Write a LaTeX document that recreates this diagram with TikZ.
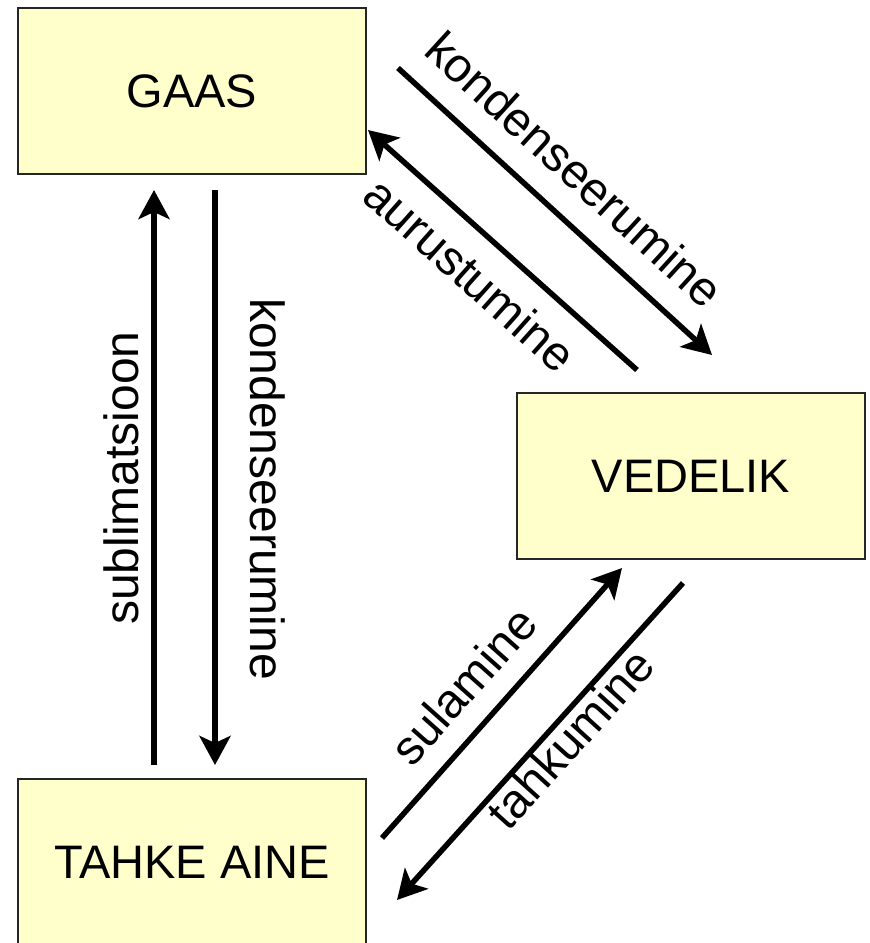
\documentclass[tikz,border=0pt]{standalone}
\usepackage{fontspec}
\setmainfont{Liberation Sans}
\usetikzlibrary{arrows.meta}
\definecolor{boxfill}{HTML}{FFFFCC}
\begin{document}
\begin{tikzpicture}[x=1pt,y=-1pt,
  statebox/.style={draw=black!85, line width=2pt, fill=boxfill, minimum width=348pt, minimum height=166pt, inner sep=0pt, font=\fontsize{47}{56}\selectfont},
  arr/.style={line width=5.5pt, -{Stealth[length=29pt,width=31pt,inset=7pt]}},
  lbl/.style={font=\fontsize{48}{58}\selectfont, inner sep=0pt, anchor=base}]
\useasboundingbox (0,0) rectangle (870,943);
\node[statebox] (gaas) at (192,91) {GAAS};
\node[statebox] (vedelik) at (691,476) {VEDELIK};
\node[statebox] (tahke) at (192,862) {TAHKE AINE};
% endpoints
\coordinate (upS) at (154,765);
\coordinate (upE) at (154,190);
\coordinate (dnS) at (215,190);
\coordinate (dnE) at (215,765);
\coordinate (kS) at (398,68);
\coordinate (kE) at (712,355);
\coordinate (aS) at (637,370);
\coordinate (aE) at (368,130);
\coordinate (sS) at (382,838);
\coordinate (sE) at (622,568);
\coordinate (tS) at (683,583);
\coordinate (tE) at (397,900);
\draw[arr] (upS) -- (upE);
\draw[arr] (dnS) -- (dnE);
\draw[arr] (kS) -- (kE);
\draw[arr] (aS) -- (aE);
\draw[arr] (sS) -- (sE);
\draw[arr] (tS) -- (tE);
% labels
\node[lbl, rotate=90] (lsub) at (138,478) {sublimatsioon};
\node[lbl, rotate=-90] (lkv) at (250,489) {kondenseerumine};
\node[lbl, rotate=-42.4] (lkd) at (563,182) {kondenseerumine};
\node[lbl, rotate=-41.7] (laur) at (459,287) {aurustumine};
\node[lbl, rotate=48.4] (lsul) at (476,697) {sulamine};
\node[lbl, rotate=47.9] (ltah) at (583,750) {tahkumine};
\end{tikzpicture}
\end{document}
